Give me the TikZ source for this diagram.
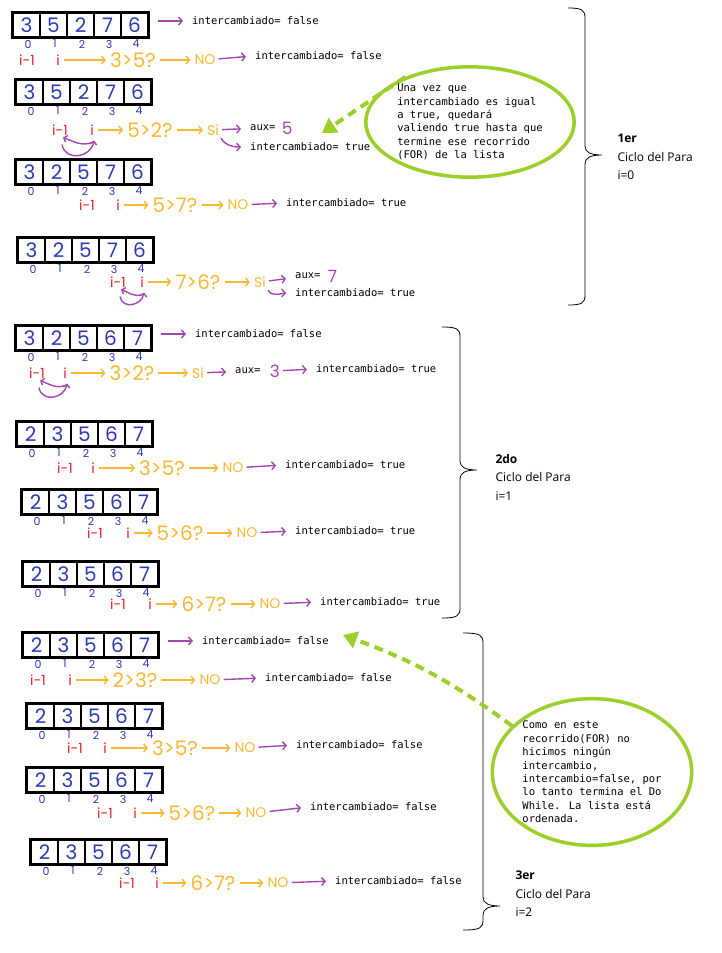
\documentclass[tikz,border=0pt]{standalone}
\usepackage{fontspec}
\setmainfont{Open Sans}
\newfontfamily\mono{DejaVu Sans Mono}
\newfontfamily\mano{Poppins}
\usetikzlibrary{arrows.meta, positioning, shapes.geometric, fit, calc}
\definecolor{azul}{HTML}{2A3BB5}
\definecolor{rojo}{HTML}{E8202A}
\definecolor{naranja}{HTML}{F8B932}
\definecolor{morado}{HTML}{A646B0}
\definecolor{verde}{HTML}{9BCF2A}

\begin{document}
\begin{tikzpicture}[x=1pt, y=-1pt,
    celda/.style={draw, line width=1.3pt, minimum width=27pt, minimum height=24pt, inner sep=0pt,
                  text=azul, font=\mano\fontsize{20}{20}\selectfont},
    marco/.style={draw, line width=2.6pt, inner sep=0pt},
    indice/.style={text=azul, inner sep=0pt, font=\mano\fontsize{11}{11}\selectfont},
    idx/.style={text=rojo, inner sep=1pt, font=\mano\fontsize{14}{14}\selectfont},
    comp/.style={text=naranja, inner sep=1pt, font=\mano\fontsize{20}{20}\selectfont},
    res/.style={text=naranja, inner sep=1pt, font=\mano\fontsize{14}{14}\selectfont},
    valor/.style={text=morado, inner sep=1pt, font=\mano\fontsize{17}{17}\selectfont},
    msg/.style={anchor=west, inner sep=2pt, font=\mono\fontsize{10.5}{12}\selectfont},
    flechan/.style={naranja, line width=1.4pt, shorten <=3pt, shorten >=3pt, -{Straight Barb[length=3.5pt, width=8pt]}},
    flechap/.style={morado, line width=1.4pt, shorten <=2pt, shorten >=7pt, -{Straight Barb[length=3.5pt, width=8pt]}},
    cambio/.style={morado, line width=1.4pt, -{Straight Barb[length=3pt, width=7pt]}},
    nota/.style={ellipse, draw=verde, line width=3.5pt, inner sep=1pt, align=left,
                 font=\mono\fontsize{10.5}{13.4}\selectfont},
    guia/.style={verde, line width=4pt, dash pattern=on 9pt off 6pt, -{Triangle[length=14pt, width=17pt]}},
    llave/.style={line width=0.8pt},
    ciclo/.style={anchor=west, align=left, font=\fontsize{12}{18.5}\selectfont}
  ]
  \path[use as bounding box, fill=white] (0,0) rectangle (721,953);

  % arreglos con sus indices
  \foreach \n/\x/\y/\vals in {1/13/13/{3,5,2,7,6}, 2/16/80/{3,5,2,7,6}, 3/16/160/{3,2,5,7,6},
      4/18/238/{3,2,5,7,6}, 5/16/326/{3,2,5,6,7}, 6/17/422/{2,3,5,6,7}, 7/22/490/{2,3,5,6,7},
      8/23/562/{2,3,5,6,7}, 9/23/633/{2,3,5,6,7}, 10/27/704/{2,3,5,6,7}, 11/27/768/{2,3,5,6,7},
      12/31/840/{2,3,5,6,7}} {
    \foreach \v [count=\k from 0] in \vals {
      \node[celda] (a\n-\k) at (\x+27*\k+13.5, \y+12) {\v};
      \node[indice] (d\n-\k) at (\x+27*\k+15, \y+31) {\k};
    }
    \node[marco, fit=(a\n-0)(a\n-4)] (arr\n) {};
  }

  % inicio de cada recorrido
  \foreach \n in {1,5,9} {
    \node[msg, right=40pt of arr\n, yshift=4pt] (f\n) {intercambiado= false};
    \draw[flechap, shorten <=8pt] (arr\n.east |- f\n) -- (f\n);
  }

  % comparaciones sin intercambio
  \foreach \n/\y/\xm/\xi/\c/\xc/\xs/\xt/\ty/\v in {1/60/27/58/3>5?/133/205/253/56/false,
      3/205/87/118/5>7?/175/238/284/203/true, 6/468/65/93/3>5?/162/233/283/465/true,
      7/533/95/128/5>6?/180/247/293/531/true, 8/604/118/150/6>7?/204/270/318/602/true,
      9/680/38/70/2>3?/135/210/263/678/false, 10/748/75/105/3>5?/175/245/294/745/false,
      11/813/105/135/5>6?/192/256/308/807/false, 12/883/127/157/6>7?/213/278/333/881/false} {
    \node[idx] (m\n) at (\xm,\y) {i-1};
    \node[idx] (i\n) at (\xi,\y) {i};
    \node[comp] (c\n) at (\xc,\y) {\c};
    \node[res] (s\n) at (\xs,\y) {NO};
    \node[msg] (t\n) at (\xt,\ty) {intercambiado= \v};
    \draw[flechan] (i\n) -- (c\n);
    \draw[flechan] (c\n) -- (s\n);
    \draw[flechap] (s\n) -- (t\n.west);
  }

  % fila 2
  \node[idx] (m2) at (60,130) {i-1};
  \node[idx] (i2) at (92,130) {i};
  \node[comp] (c2) at (150,130) {5>2?};
  \node[res] (s2) at (213,130) {Si};
  \node[msg] (x2) at (248,128) {aux=};
  \node[valor, right=3pt of x2] (v2) {5};
  \node[msg] (t2) at (248,147) {intercambiado= true};
  \draw[flechan] (i2) -- (c2);
  \draw[flechan] (c2) -- (s2);
  \draw[flechap] (s2) -- (x2);
  \draw[flechap] (s2.south east) to[out=-60, in=180] (t2.west);
  \draw[cambio] ([yshift=-6pt]i2.south) to[out=-160, in=-20] ([xshift=3pt, yshift=-1pt]m2.south);
  \draw[cambio] ([xshift=2pt, yshift=-8pt]m2.south) to[out=-80, in=-100, looseness=1.4] ([xshift=2pt, yshift=-4pt]i2.south);

  % fila 4
  \node[idx] (m4) at (118,282) {i-1};
  \node[idx] (i4) at (142,282) {i};
  \node[comp] (c4) at (198,282) {7>6?};
  \node[res] (s4) at (260,282) {Si};
  \node[msg] (x4) at (293,276) {aux=};
  \node[valor, right=4pt of x4] (v4) {7};
  \node[msg] (t4) at (293,293) {intercambiado= true};
  \draw[flechan] (i4) -- (c4);
  \draw[flechan] (c4) -- (s4);
  \draw[flechap] (s4) -- (x4);
  \draw[flechap] (s4.south east) to[out=-60, in=180] (t4.west);
  \draw[cambio] ([yshift=-6pt]i4.south) to[out=-160, in=-20] ([xshift=3pt, yshift=-1pt]m4.south);
  \draw[cambio] ([xshift=2pt, yshift=-8pt]m4.south) to[out=-80, in=-100, looseness=1.4] ([xshift=2pt, yshift=-4pt]i4.south);

  % fila 5
  \node[idx] (m5) at (37,373) {i-1};
  \node[idx] (i5) at (65,373) {i};
  \node[comp] (c5) at (132,373) {3>2?};
  \node[res] (s5) at (198,373) {Si};
  \node[msg] (x5) at (233,371) {aux=};
  \node[valor, right=6pt of x5] (v5) {3};
  \node[msg] (t5) at (314,369) {intercambiado= true};
  \draw[flechan] (i5) -- (c5);
  \draw[flechan] (c5) -- (s5);
  \draw[flechap] (s5) -- (x5);
  \draw[flechap] (v5) -- (t5.west);
  \draw[cambio] ([yshift=-6pt]i5.south) to[out=-160, in=-20] ([xshift=3pt, yshift=-1pt]m5.south);
  \draw[cambio] ([xshift=2pt, yshift=-8pt]m5.south) to[out=-80, in=-100, looseness=1.4] ([xshift=2pt, yshift=-4pt]i5.south);

  % llaves de cada ciclo
  \foreach \xa/\xb/\ya/\ym/\yb in {568/585/8/155/305, 442/460/327/470/618, 463/483/633/906/930}
    \draw[llave] (\xa,\ya) .. controls (\xb-3,\ya) and (\xb,\ya+2) .. (\xb,\ya+10) -- (\xb,\ym-9)
      .. controls (\xb,\ym-3) and (\xb+5,\ym) .. (\xb+17,\ym)
      .. controls (\xb+5,\ym) and (\xb,\ym+3) .. (\xb,\ym+9) -- (\xb,\yb-10)
      .. controls (\xb,\yb-2) and (\xb-3,\yb) .. (\xa,\yb);
  \node[ciclo] (ciclo1) at (614,157) {\textbf{1er}\\Ciclo del Para\\i=0};
  \node[ciclo] (ciclo2) at (492,477) {\textbf{2do}\\Ciclo del Para\\i=1};
  \node[ciclo] (ciclo3) at (512,894) {\textbf{3er}\\Ciclo del Para\\i=2};

  % notas
  \node[nota] (nota1) at (470,122) {Una vez que\\intercambiado es igual\\a true, quedará\\valiendo true hasta que\\termine ese recorrido\\(FOR) de la lista};
  \node[nota] (nota2) at (592,772) {Como en este\\recorrido(FOR) no\\hicimos ningún\\intercambio,\\intercambio=false, por\\lo tanto termina el Do\\While. La lista está\\ordenada.};
  \coordinate (p1) at (322,133);
  \coordinate (p2) at (343,635);
  \draw[guia] (nota1.145) -- (p1);
  \draw[guia] (nota2.150) to[bend right=8] (p2);
\end{tikzpicture}
\end{document}
